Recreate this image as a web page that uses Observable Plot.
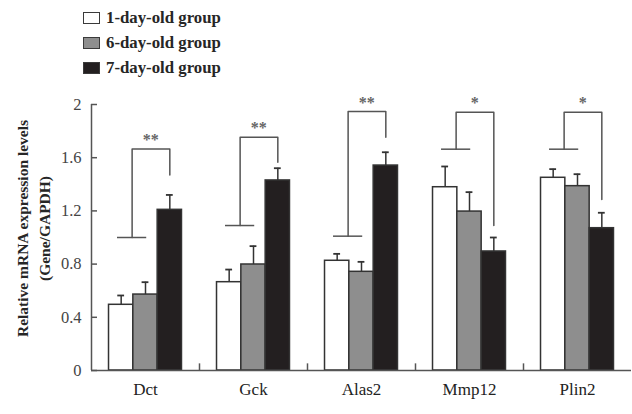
<!DOCTYPE html>
<html><head><meta charset="utf-8">
<script src="https://cdn.jsdelivr.net/npm/d3@7"></script>
<script src="https://cdn.jsdelivr.net/npm/@observablehq/plot@0.6"></script>
<style>
body{margin:0;background:#fff;font-family:"Liberation Serif",serif;}
#legend{height:85px;position:relative;}
.item{position:absolute;left:83px;height:20px;line-height:20px;display:flex;align-items:center;font-weight:bold;font-size:16.8px;color:#262626;}
.sw{box-sizing:border-box;width:17px;height:12.5px;border:1.5px solid #3a3a3a;margin-right:6px;}
</style></head><body>
<div id="legend"></div><div id="chart"></div>
<script>
const genes = ["Dct","Gck","Alas2","Mmp12","Plin2"];
const groups = ["1-day-old group","6-day-old group","7-day-old group"];
const groupColors = ["#ffffff","#8e8e8e","#231f20"];
const mean1 = [0.494,0.664,0.825,1.378,1.449];
const mean6 = [0.571,0.797,0.742,1.195,1.386];
const mean7 = [1.208,1.429,1.541,0.895,1.070];
const err1 = [0.070,0.095,0.052,0.156,0.065];
const err6 = [0.093,0.138,0.075,0.146,0.090];
const err7 = [0.112,0.092,0.100,0.105,0.116];
const sigLow = [1.000,1.090,1.010,1.664,1.664];
const sigTop = [1.665,1.754,1.947,1.942,1.942];
const sigEnd = [1.470,1.566,1.754,1.090,1.286];
const sigLabel = ["**","**","**","*","*"];
const yTicks = [0,0.4,0.8,1.2,1.6,2];
const yTickLabels = ["0","0.4","0.8","1.2","1.6","2"];
const yTitle = "Relative mRNA expression levels\n(Gene/GAPDH)";

// legend
const leg = document.getElementById("legend");
groups.forEach((g,i)=>{
  const it = document.createElement("div");
  it.className="item"; it.style.top=(8+25*i)+"px";
  const sw=document.createElement("span"); sw.className="sw"; sw.style.background=groupColors[i];
  it.appendChild(sw); it.appendChild(document.createTextNode(g));
  leg.appendChild(it);
});

const means=[mean1,mean6,mean7], errs=[err1,err6,err7];
const rows=[];
genes.forEach((gene,k)=>groups.forEach((grp,gi)=>rows.push({gene,grp,gi,mean:means[gi][k],err:errs[gi][k]})));
const sig = genes.map((gene,k)=>({gene,low:sigLow[k],top:sigTop[k],end:sigEnd[k],label:sigLabel[k]}));
const bracketPts=[];
sig.forEach(s=>{
  bracketPts.push({gene:s.gene,x:0.95,y:s.low},{gene:s.gene,x:0.95,y:s.top},{gene:s.gene,x:2.5,y:s.top},{gene:s.gene,x:2.5,y:s.end});
});
const xDom=[-0.72,3.72];
const lineCol="#555";

const chart = Plot.plot({
  width:632, height:329,
  marginLeft:89, marginRight:0, marginTop:19, marginBottom:44,
  style:{fontFamily:"Liberation Serif, serif", fontSize:"16px", background:"#fff"},
  fx:{domain:genes, padding:0},
  x:{domain:xDom, axis:null},
  y:{domain:[0,2]},
  color:{domain:groups, range:groupColors},
  marks:[
    Plot.rect(rows,{fx:"gene", x1:d=>d.gi, x2:d=>d.gi+1, y1:0, y2:"mean", fill:"grp", stroke:"#333", strokeWidth:1.5}),
    Plot.ruleX(rows,{fx:"gene", x:d=>d.gi+0.5, y1:"mean", y2:d=>d.mean+d.err, stroke:"#333", strokeWidth:1.5}),
    Plot.ruleY(rows,{fx:"gene", y:d=>d.mean+d.err, x1:d=>d.gi+0.36, x2:d=>d.gi+0.64, stroke:"#333", strokeWidth:1.8}),
    Plot.ruleY(sig,{fx:"gene", y:"low", x1:0.35, x2:1.55, stroke:lineCol, strokeWidth:1.5}),
    Plot.line(bracketPts,{fx:"gene", x:"x", y:"y", z:"gene", stroke:lineCol, strokeWidth:1.5}),
    Plot.text(sig,{fx:"gene", x:1.72, y:"top", text:"label", dy:-9, fontSize:16, fontWeight:"bold", fill:"#666", lineAnchor:"middle"}),
    Plot.ruleY([0],{stroke:lineCol, strokeWidth:1.5}),
    Plot.ruleX(genes.slice(1),{fx:d=>d, x:()=>xDom[0], y1:0, y2:0.05, stroke:lineCol, strokeWidth:1.5}),
    Plot.ruleX([genes[0]],{fx:d=>d, x:()=>xDom[0], y1:0, y2:2, stroke:lineCol, strokeWidth:1.5}),
    Plot.axisY({ticks:yTicks, tickFormat:d=>yTickLabels[yTicks.indexOf(d)], tickSize:-6, tickPadding:16, stroke:lineCol, strokeWidth:1.5, fill:"#444", fontSize:16.5, label:null}),
    Plot.axisFx({anchor:"bottom", tickSize:0, tickPadding:12, fontSize:17, fill:"#222", label:null}),
    Plot.text([genes[0]],{fx:d=>d, frameAnchor:"left", dx:-59.5, dy:-9, rotate:-90, text:()=>yTitle, lineHeight:1.4, fontSize:15.5, fontWeight:"bold", fill:"#262626", textAnchor:"middle", lineAnchor:"middle"})
  ]
});
document.getElementById("chart").appendChild(chart);
</script></body></html>
